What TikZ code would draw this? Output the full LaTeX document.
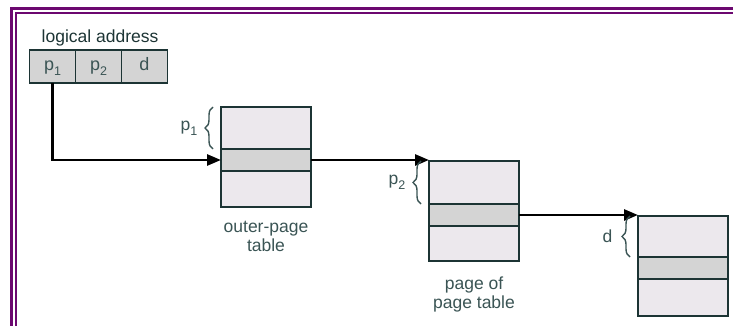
\documentclass[tikz,border=0pt]{standalone}
\usepackage{fontspec}
\setmainfont{Liberation Sans}
\usetikzlibrary{
	positioning,   %relative placement
	arrows.meta,   %arrow tips
	decorations.pathreplacing, %braces
	calc
}
\definecolor{framepurple}{RGB}{108,8,112}
\definecolor{boxline}{RGB}{28,52,52}
\definecolor{boxfill}{RGB}{236,232,237}
\definecolor{rowfill}{RGB}{212,212,212}
\definecolor{labeltext}{RGB}{58,84,84}
\tikzset{
	every picture/.style={
		>={Triangle[length=14pt,width=11pt]}
}}
\tikzset{
	tablebox/.style={draw=boxline,fill=boxfill,line width=1.3pt,
		minimum width=90pt,minimum height=100pt,inner sep=0pt,outer sep=0pt},
	rowbox/.style={draw=boxline,fill=rowfill,line width=1.3pt,
		minimum width=90pt,minimum height=22pt,inner sep=0pt,outer sep=0pt},
	addrcell/.style={draw=boxline,fill=rowfill,line width=1.3pt,
		minimum width=46pt,minimum height=33pt,inner sep=0pt,outer sep=0pt,
		text height=14pt,text depth=5pt,text=labeltext,font=\fontsize{18}{18}\selectfont},
	ptr/.style={->,line width=2.7pt},
	offbrace/.style={decorate,decoration={brace,amplitude=8pt},draw=labeltext,line width=1.4pt},
	caption/.style={text=labeltext,inner sep=0pt,align=center,font=\fontsize{17.5}{19}\selectfont}
}
\newcommand{\lowidx}[1]{\raisebox{-0.5ex}{\fontsize{12.5}{12}\selectfont #1}}

\begin{document}
\begin{tikzpicture}[x=1pt,y=-1pt]
\useasboundingbox (0,0) rectangle (733,326);
%double frame
\draw[framepurple,line width=3.5pt] (11.5,326) |- (733,8.5);
\draw[framepurple,line width=1.5pt] (15.8,326) |- (733,12.8);

%logical address
\node[addrcell] (p1cell) at (52.5,66.5) {p\lowidx{1}};
\node[addrcell,right=0pt of p1cell] (p2cell) {p\lowidx{2}};
\node[addrcell,right=0pt of p2cell] (dcell) {d};
\node[anchor=south west,inner sep=0pt,text=boxline,font=\fontsize{17.5}{18}\selectfont]
	(logaddr) at ([xshift=12pt,yshift=4pt]p1cell.north west) {logical address};

%tables
\node[tablebox] (outertab) at (266,157) {};
\node[rowbox,anchor=north] (outerrow) at ([yshift=-42pt]outertab.north) {};
\node[tablebox,anchor=north west] (pagetab) at ([xshift=118pt,yshift=-1pt]outerrow.east) {};
\node[rowbox,anchor=north] (pagerow) at ([yshift=-43pt]pagetab.north) {};
\node[tablebox,anchor=north west] (frametab) at ([xshift=119pt,yshift=-1pt]pagerow.east) {};
\node[rowbox,anchor=north] (framerow) at ([yshift=-41pt]frametab.north) {};

%pointers
\draw[ptr] (p1cell.south) |- (outerrow.west);
\draw[ptr] (outerrow.east) -- (outerrow.east -| pagetab.west);
\draw[ptr] (pagerow.east) -- (pagerow.east -| frametab.west);

%offsets
\draw[offbrace] ([xshift=-8pt]outerrow.north west) -- ([xshift=-8pt]outertab.north west)
	node[caption,midway,left=15pt] (p1lab) {p\lowidx{1}};
\draw[offbrace] ([xshift=-8pt]pagerow.north west) -- ([xshift=-8pt]pagetab.north west)
	node[caption,midway,left=15pt] (p2lab) {p\lowidx{2}};
\draw[offbrace] ([xshift=-8pt]framerow.north west) -- ([xshift=-8pt]frametab.north west)
	node[caption,midway,left=17pt] (dlab) {d};

%captions
\node[caption,below=14pt of outertab] (outercap) {outer-page\\table};
\node[caption,below=16pt of pagetab] (pagecap) {page of\\page table};
\end{tikzpicture}
\end{document}
